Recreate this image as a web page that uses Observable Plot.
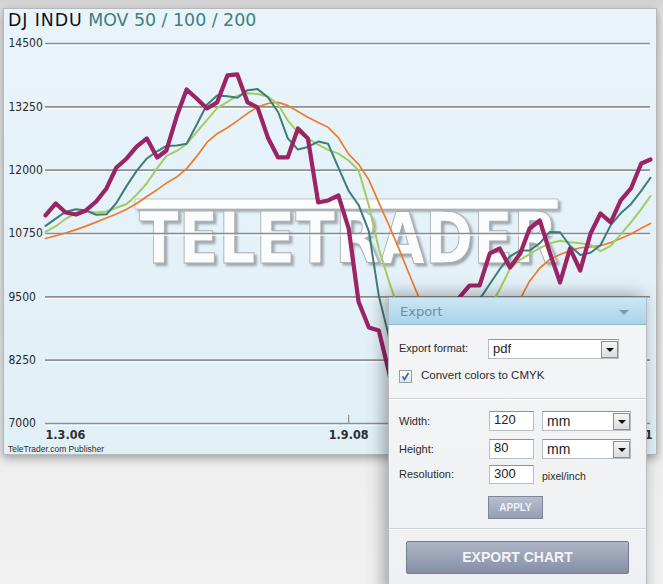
<!DOCTYPE html>
<html><head><meta charset="utf-8">
<script src="https://cdn.jsdelivr.net/npm/d3@7"></script>
<script src="https://cdn.jsdelivr.net/npm/@observablehq/plot@0.6"></script>
<style>
html,body{margin:0;padding:0;}
body{width:663px;height:584px;overflow:hidden;position:relative;background:linear-gradient(180deg,#d2d2d2 0px,#e4e4e4 14px,#ebebeb 300px,#f1f1f1 584px);font-family:"Liberation Sans",Arial,sans-serif;}
#panel{position:absolute;left:3px;top:8px;width:652px;height:445px;background:linear-gradient(180deg,#e9f4fa,#e1eff7);border:1px solid #b3babf;box-shadow:0 3px 9px rgba(0,0,0,.35);}
#wm{position:absolute;left:0;top:0;}
#chart{position:absolute;left:0;top:0;}
#title{position:absolute;left:8px;top:10px;font-family:"DejaVu Sans";font-size:17.4px;line-height:20px;color:#121212;white-space:nowrap}
#title b{font-weight:normal;letter-spacing:0.9px}
#title span{color:#3f7f80}
#foot{position:absolute;left:8px;top:444px;font-size:8.5px;line-height:10px;color:#2d2d2d;white-space:nowrap}
#dlg{position:absolute;left:388px;top:297px;width:257px;height:300px;background:linear-gradient(180deg,#f4f5f7,#eef0f2);border:1px solid #b4bbc1;box-shadow:-4px -2px 16px rgba(0,0,0,.35);}
#dlg .hdr{position:absolute;left:0;top:0;width:257px;height:26px;background:linear-gradient(180deg,#cbe7f4,#a9d3e9);border-bottom:1px solid #93bcd2;}
#dlg .hdr .t{position:absolute;left:11px;top:6px;font-family:"DejaVu Sans";font-size:13px;color:#6d8da2;}
.tri{position:absolute;width:0;height:0;border-left:5px solid transparent;border-right:5px solid transparent;border-top:5px solid #7f98aa;}
.lbl{position:absolute;font-size:11px;line-height:13px;color:#2b2b2b;white-space:nowrap}
.box{position:absolute;background:#fff;border:1px solid #b9bec4;border-top-color:#8e949a;box-sizing:border-box;font-size:13px;color:#222;padding-left:4px;line-height:15px;}
.btn{position:absolute;box-sizing:border-box;width:17px;height:17px;border:1px solid #8a8f94;background:linear-gradient(180deg,#f4f4f4,#dcdcdc);}
.btn .tri{left:3.5px;top:6px;border-left-width:4px;border-right-width:4px;border-top:4px solid #111;}
.sep{position:absolute;left:0;width:257px;height:1px;background:#cfd4d8;border-bottom:1px solid #fff;}
#apply{position:absolute;left:99px;top:198px;width:55px;height:23px;box-sizing:border-box;border:1px solid #7f879a;background:linear-gradient(180deg,#b8bfcf,#959eb3);color:#eef0f5;font-weight:bold;font-size:10px;text-align:center;line-height:21px;}
#exp{position:absolute;left:17px;top:243px;width:223px;height:33px;box-sizing:border-box;border:1px solid #737c91;border-radius:2px;background:linear-gradient(180deg,#aeb6c7,#858ea4);color:#f1f3f7;font-weight:bold;font-size:14px;text-align:center;line-height:31px;}
</style></head>
<body>
<div id="panel"></div>
<svg id="wm" width="663" height="460">
  <defs>
    <filter id="sh" x="-5%" y="-20%" width="110%" height="140%">
      <feDropShadow dx="2.5" dy="2.5" stdDeviation="1" flood-color="#6f757a" flood-opacity="0.6"/>
    </filter>
  </defs>
  <g filter="url(#sh)">
    <rect x="135" y="199" width="423" height="10" fill="#fbfdfe" stroke="#b4b9bd" stroke-width="0.8"/>
    <text x="139" y="263" font-family="DejaVu Sans" font-weight="bold" font-size="72" textLength="419" lengthAdjust="spacingAndGlyphs" fill="#fafcfd" stroke="#a7adb2" stroke-width="1">TELETRADER</text>
  </g>
</svg>
<div id="chart"></div>
<div id="title"><b>DJ INDU</b> <span>MOV 50 / 100 / 200</span></div>
<div id="foot">TeleTrader.com Publisher</div>
<div id="dlg">
  <div class="hdr"><span class="t">Export</span><span class="tri" style="left:230px;top:12px"></span></div>
  <div class="lbl" style="left:10px;top:44px">Export format:</div>
  <div class="box" style="left:99px;top:41px;width:131px;height:20px;line-height:18px">pdf<div class="btn" style="left:112px;top:0.5px"><span class="tri"></span></div></div>
  <div style="position:absolute;left:10px;top:72px;width:13px;height:13px;box-sizing:border-box;border:1px solid #9a9ea3;background:linear-gradient(180deg,#fff,#e3e6ea)">
    <svg width="11" height="11" style="position:absolute;left:0;top:0"><path d="M2.5,5.5 L4.5,8.5 L8.5,2" fill="none" stroke="#3a62b0" stroke-width="1.6"/></svg>
  </div>
  <div class="lbl" style="left:32px;top:71px;font-size:11.5px">Convert colors to CMYK</div>
  <div class="sep" style="top:100px"></div>
  <div class="lbl" style="left:10px;top:117px">Width:</div>
  <div class="box" style="left:100px;top:113px;width:45px;height:20px">120</div>
  <div class="box" style="left:153px;top:113px;width:89px;height:20px;font-size:14px;line-height:19px">mm<div class="btn" style="left:70px;top:0.5px"><span class="tri"></span></div></div>
  <div class="lbl" style="left:10px;top:145px">Height:</div>
  <div class="box" style="left:100px;top:141px;width:45px;height:20px">80</div>
  <div class="box" style="left:153px;top:141px;width:89px;height:20px;font-size:14px;line-height:19px">mm<div class="btn" style="left:70px;top:0.5px"><span class="tri"></span></div></div>
  <div class="lbl" style="left:10px;top:170px">Resolution:</div>
  <div class="box" style="left:100px;top:167px;width:45px;height:19px">300</div>
  <div class="lbl" style="left:153px;top:172px;font-size:10.5px">pixel/inch</div>
  <div id="apply">APPLY</div>
  <div class="sep" style="top:230px"></div>
  <div id="exp">EXPORT CHART</div>
</div>
<script>
// monthly data, Mar 2006 – Mar 2011
const months = [
 "2006-03","2006-04","2006-05","2006-06","2006-07","2006-08","2006-09","2006-10","2006-11","2006-12",
 "2007-01","2007-02","2007-03","2007-04","2007-05","2007-06","2007-07","2007-08","2007-09","2007-10","2007-11","2007-12",
 "2008-01","2008-02","2008-03","2008-04","2008-05","2008-06","2008-07","2008-08","2008-09","2008-10","2008-11","2008-12",
 "2009-01","2009-02","2009-03","2009-04","2009-05","2009-06","2009-07","2009-08","2009-09","2009-10","2009-11","2009-12",
 "2010-01","2010-02","2010-03","2010-04","2010-05","2010-06","2010-07","2010-08","2010-09","2010-10","2010-11","2010-12",
 "2011-01","2011-02","2011-03"];
const djIndu = [11106,11343,11165,11126,11205,11381,11639,12053,12231,12463,
 12626,12251,12389,13063,13593,13409,13218,13337,13870,13889,13337,13238,
 12646,12251,12251,12823,12626,11363,11402,11500,10851,9400,8895,8836,
 8000,7063,7609,8168,8500,8447,9172,9487,9724,9724,10356,10454,
 10080,10356,10849,11007,10375,9783,10454,10020,10750,11145,10968,11402,
 11639,12132,12211];
const mov50 = [10900,11044,11181,11229,11202,11120,11129,11352,11690,11985,
 12231,12373,12478,12488,12523,12906,13290,13474,13459,13429,
 13579,13600,13439,13148,12632,12407,12459,12564,12520,12052,
 11590,11313,10790,9519,8700,8300,8000,7750,7850,8200,
 8500,8850,9150,9450,9753,10045,10298,10415,10415,10561,
 10782,10775,10508,10325,10370,10518,10916,11149,11329,11590,11850];
const mov100 = [10780,10894,11040,11154,11187,11165,11184,11258,11333,11515,
 11742,12041,12281,12379,12520,12755,12989,13224,13349,13469,
 13519,13504,13453,13298,12984,12745,12622,12503,12400,12327,
 12190,12000,11300,10450,9800,9200,8700,8300,8100,8050,
 8150,8400,8750,9050,9300,9647,10053,10236,10343,10464,
 10556,10606,10575,10559,10529,10402,10504,10733,10968,11232,11490];
const mov200 = [10652,10706,10760,10827,10896,10975,11055,11134,11230,11341,
 11481,11615,11744,11864,12031,12277,12547,12720,12836,12973,
 13121,13244,13316,13337,13279,13156,13044,12940,12845,12641,
 12316,12115,11810,11359,10908,10427,9976,9487,9100,8800,
 8600,8500,8500,8600,8800,9000,9250,9460,9808,10069,
 10237,10336,10411,10469,10485,10509,10570,10651,10740,10854,10948];
const yTicks = [7000,8250,9500,10750,12000,13250,14500];
const xTickDates = ["2006-03-01","2008-09-01","2011-03-01"];
const xTickLabels = ["1.3.06","1.9.08","1.3.11"];

const rows = months.map((m,i)=>({date:new Date(m+"-01"), price:djIndu[i], m50:mov50[i], m100:mov100[i], m200:mov200[i]}));
const xt = xTickDates.map(d=>new Date(d));
const fmtX = d => xTickLabels[xt.findIndex(t=>+t===+d)];
const xLab = {tickSize:0, tickPadding:7, tickFormat:fmtX, label:null, fontSize:12.5, fontFamily:"DejaVu Sans Condensed", fontWeight:"bold", fill:"#2e2e2e"};

const chart = Plot.plot({
  width:663, height:460, marginLeft:45, marginRight:13, marginTop:43, marginBottom:37,
  style:{background:"transparent", overflow:"visible"},
  x:{type:"utc", domain:[xt[0], xt[2]]},
  y:{domain:[7000,14500]},
  marks:[
    Plot.ruleY(yTicks,{stroke:"#ffffff", strokeWidth:1.2, dy:1.6, strokeOpacity:0.9}),
    Plot.ruleY(yTicks,{stroke:"#8d9092", strokeWidth:1.6}),
    Plot.axisY(yTicks,{anchor:"left", tickSize:0, tickPadding:0, textAnchor:"start", dx:-37, label:null,
      tickFormat:d=>String(d), fontSize:12, fontFamily:"DejaVu Sans Condensed", fill:"#2a2a2a"}),
    Plot.axisX([xt[1]],{tickSize:8, dy:-8, tickFormat:()=>"", label:null, stroke:"#8d9092", strokeWidth:1.2}),
    Plot.axisX([xt[0]],{...xLab, textAnchor:"start"}),
    Plot.axisX([xt[1]],{...xLab}),
    Plot.axisX([xt[2]],{...xLab, textAnchor:"end", dx:2}),
    Plot.line(rows,{x:"date", y:"m200", stroke:"#ee7b2c", strokeWidth:1.7, strokeLinejoin:"round"}),
    Plot.line(rows,{x:"date", y:"m100", stroke:"#a2cd60", strokeWidth:2, strokeLinejoin:"round"}),
    Plot.line(rows,{x:"date", y:"m50", stroke:"#3c7c79", strokeWidth:2, strokeLinejoin:"round"}),
    Plot.line(rows,{x:"date", y:"price", stroke:"#9b2465", strokeWidth:4.2, strokeLinejoin:"round"})
  ]
});
document.getElementById("chart").appendChild(chart);
</script>
</body></html>
